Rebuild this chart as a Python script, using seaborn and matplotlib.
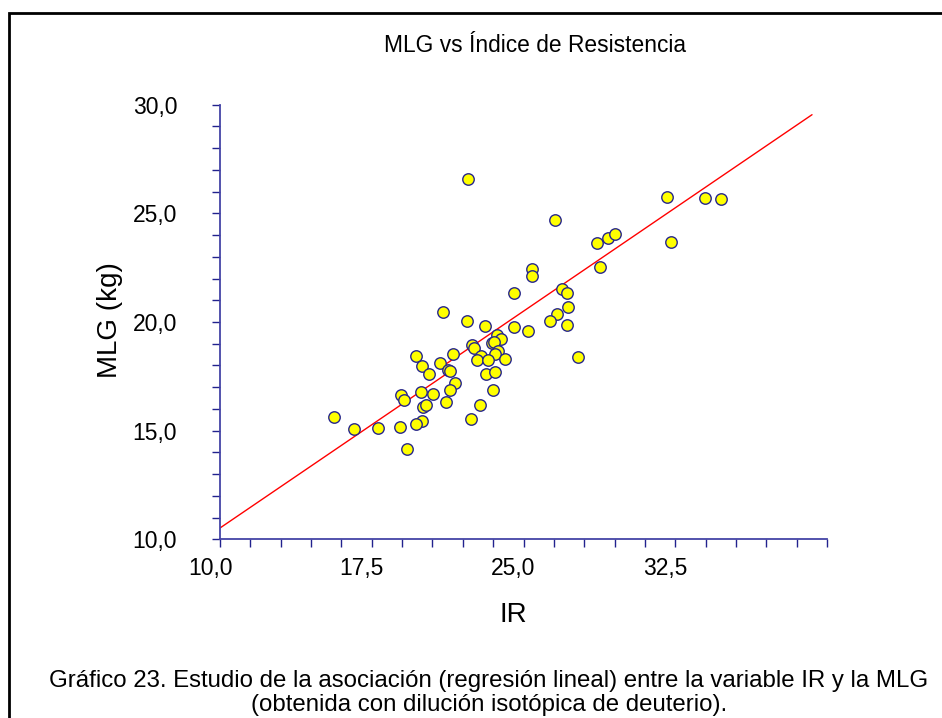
import matplotlib
matplotlib.use("Agg")
import matplotlib.pyplot as plt
import matplotlib.transforms as mtransforms
from matplotlib.patches import Rectangle
from matplotlib.ticker import FixedLocator, FuncFormatter
import numpy as np
import pandas as pd
import seaborn as sns

# Índice de Resistencia (IR) and lean mass MLG (kg) for each subject
ir = [21.04, 22.21, 23.10, 23.69, 23.89, 23.45, 23.53, 22.46, 22.56, 23.73,
      23.57, 21.52, 19.69, 22.92, 22.68, 23.27, 24.09, 20.88, 19.96, 21.26,
      21.37, 20.31, 23.17, 23.60, 21.60, 21.38, 19.93, 23.51, 18.93, 20.51,
      19.10, 21.19, 20.03, 20.20, 22.85, 15.64, 22.42, 19.99, 19.69, 16.60,
      17.79, 18.91, 19.22, 22.26, 26.58, 32.09, 33.95, 34.74, 32.31, 28.62,
      29.20, 29.54, 28.77, 25.42, 25.44, 24.53, 26.90, 27.17, 27.22, 26.68,
      26.30, 27.15, 24.53, 25.20, 27.69]
mlg = [20.45, 20.06, 19.82, 19.42, 19.23, 19.02, 19.07, 18.93, 18.82, 18.67,
       18.51, 18.53, 18.44, 18.44, 18.27, 18.27, 18.31, 18.10, 17.96, 17.81,
       17.75, 17.63, 17.59, 17.72, 17.19, 16.87, 16.76, 16.88, 16.66, 16.67,
       16.39, 16.32, 16.07, 16.18, 16.19, 15.63, 15.52, 15.44, 15.29, 15.08,
       15.11, 15.18, 14.17, 26.58, 24.69, 25.75, 25.71, 25.67, 23.67, 23.64,
       23.88, 24.06, 22.54, 22.43, 22.13, 21.32, 21.53, 21.35, 20.68, 20.35,
       20.05, 19.86, 19.75, 19.60, 18.39]

# Linear regression line, rendered in two pieces
fit_ir_a = [10.00, 21.60]
fit_mlg_a = [10.52, 17.87]
fit_ir_b = [20.84, 39.26]
fit_mlg_b = [17.86, 29.54]

x_ticks = [10.0, 17.5, 25.0, 32.5]
y_ticks = [10.0, 15.0, 20.0, 25.0, 30.0]

title = "MLG vs Índice de Resistencia"
x_label = "IR"
y_label = "MLG (kg)"
caption = ("Gráfico 23. Estudio de la asociación (regresión lineal) entre la variable IR y la MLG\n"
           "(obtenida con dilución isotópica de deuterio).")

sns.set_style("white")
plt.rcParams["font.family"] = ["Liberation Sans", "DejaVu Sans"]
plt.rcParams["text.color"] = "black"
plt.rcParams["axes.labelcolor"] = "black"

W, H = 942, 718
fig = plt.figure(figsize=(W / 100, H / 100), dpi=100)
fig.patch.set_facecolor("white")
ax = fig.add_axes([220 / W, 1 - 539.3 / H, (827 - 220) / W, (539.3 - 104.7) / H])
ax.set_facecolor("white")

df = pd.DataFrame({"IR": ir, "MLG": mlg})

ax.plot(fit_ir_a, fit_mlg_a, color="#ff0000", lw=1.0, zorder=2)
ax.plot(fit_ir_b, fit_mlg_b, color="#ff0000", lw=1.0, zorder=2)
sns.scatterplot(data=df, x="IR", y="MLG", ax=ax, s=68, color="#ffff00",
                edgecolor="#26268c", linewidth=1.0, zorder=3, clip_on=False)

ax.set_xlim(10, 40)
ax.set_ylim(10, 30)

axis_col = "#4444a6"
tick_col = "#22228e"
for side in ("top", "right"):
    ax.spines[side].set_visible(False)
for side in ("left", "bottom"):
    ax.spines[side].set_color(axis_col)
    ax.spines[side].set_linewidth(1.3)

fmt = FuncFormatter(lambda v, p: f"{v:.1f}".replace(".", ","))
ax.xaxis.set_major_locator(FixedLocator(x_ticks))
ax.xaxis.set_minor_locator(FixedLocator(np.arange(10.0, 40.01, 1.5)))
ax.yaxis.set_major_locator(FixedLocator(y_ticks))
ax.yaxis.set_minor_locator(FixedLocator(np.arange(10.0, 30.01, 1.0)))
ax.xaxis.set_major_formatter(fmt)
ax.yaxis.set_major_formatter(fmt)

ax.tick_params(axis="both", which="both", direction="out", length=5.8,
               width=1.0, color=tick_col, labelsize=16.5, labelcolor="black")
ax.tick_params(axis="x", which="major", pad=7)
ax.tick_params(axis="y", which="major", pad=25)
ax.tick_params(bottom=True, left=True, top=False, right=False)
ax.tick_params(axis="x", which="minor", bottom=True)
ax.tick_params(axis="y", which="minor", left=True)

shift = mtransforms.ScaledTranslation(-10 / 100, 0, fig.dpi_scale_trans)
for lab in ax.get_xticklabels():
    lab.set_transform(lab.get_transform() + shift)

ax.set_xlabel("")
ax.set_ylabel("")
fig.text(513 / W, 1 - 615 / H, x_label, ha="center", va="center", fontsize=20)
fig.text(110 / W, 1 - 320 / H, y_label, ha="center", va="center", fontsize=20,
         rotation=90)
fig.text(535 / W, 1 - 45 / H, title, ha="center", va="center", fontsize=16.4)
fig.text(489 / W, 1 - 693 / H, caption, ha="center", va="center", fontsize=17.3,
         linespacing=1.12)

# outer frame around the figure (runs off the right and bottom edges)
fig.add_artist(Rectangle((8.5 / W, -0.1), 1.2, 1.1 - 13.5 / H, transform=fig.transFigure,
                         fill=False, edgecolor="black", lw=2.0))

fig.savefig("out.png", dpi=100)
